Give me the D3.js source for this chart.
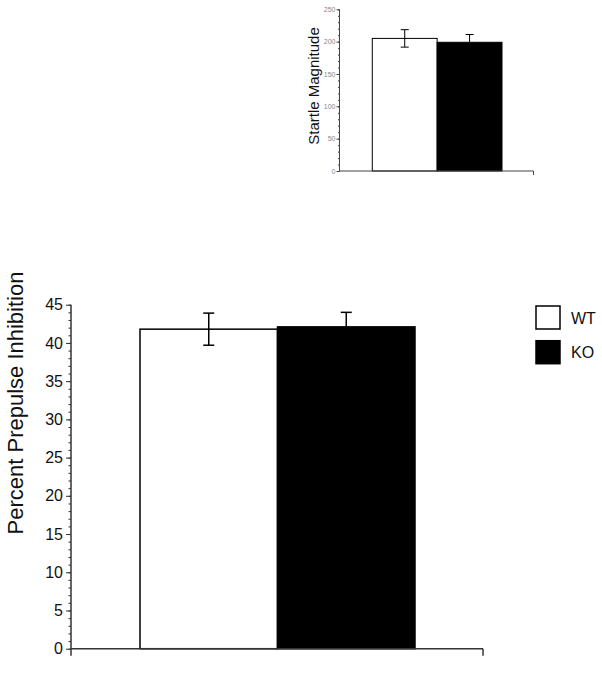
<!DOCTYPE html>
<html>
<head>
<meta charset="utf-8">
<script src="https://cdn.jsdelivr.net/npm/d3@7"></script>
<style>
	body { margin: 0; background: #fff; }
	svg { display: block; font-family: "Liberation Sans", Arial, sans-serif; }
</style>
</head>
<body>
<svg id="plot" width="602" height="679"></svg>
<script>

const GROUPS = ['WT', 'KO'];
const GROUP_FILL = ['#ffffff', '#000000'];

// main panel: percent prepulse inhibition
const PPI_MEAN = [41.8, 42.1];
const PPI_SEM = [2.1, 1.9];
const PPI_TICKS = [0, 5, 10, 15, 20, 25, 30, 35, 40, 45];

// inset: startle magnitude
const STARTLE_MEAN = [205, 199];
const STARTLE_SEM = [13.5, 12];
const STARTLE_TICKS = [0, 50, 100, 150, 200, 250];

const svg = d3.select('#plot');

function barPanel(opt) {
	const g = svg.append('g');

	const x = d3.scaleBand()
		.domain(GROUPS)
		.range([opt.barLeft, opt.barRight])
		.paddingInner(0);

	const y = d3.scaleLinear()
		.domain([0, opt.max])
		.range([opt.bottom, opt.top]);

	// minor ticks
	g.append('g')
		.attr('transform', `translate(${opt.axisX},0)`)
		.call(d3.axisLeft(y).tickValues(d3.range(0, opt.max + 0.01, opt.minorStep)).tickSize(opt.minorLen).tickFormat(''))
		.call(a => a.select('.domain').remove())
		.selectAll('line').attr('stroke', opt.axisColor);

	// major ticks + labels
	const yAx = g.append('g')
		.attr('transform', `translate(${opt.axisX},0)`)
		.call(d3.axisLeft(y).tickValues(opt.ticks).tickSize(opt.majorLen).tickPadding(opt.tickPad))
		.call(a => a.select('.domain').remove());
	yAx.selectAll('line').attr('stroke', opt.axisColor);
	yAx.selectAll('text')
		.attr('font-size', opt.tickFont)
		.attr('fill', opt.tickColor)
		.attr('font-family', '"Liberation Sans", Arial, sans-serif');

	// bars
	g.selectAll('rect.bar')
		.data(GROUPS)
		.enter().append('rect')
		.attr('class', 'bar')
		.attr('x', d => x(d))
		.attr('width', x.bandwidth())
		.attr('y', (d, i) => y(opt.mean[i]))
		.attr('height', (d, i) => y(0) - y(opt.mean[i]))
		.attr('fill', (d, i) => GROUP_FILL[i])
		.attr('stroke', '#000')
		.attr('stroke-width', opt.barStroke);

	// error bars (white bar shows both arms, black one only the upper)
	const eb = g.selectAll('g.err')
		.data(GROUPS)
		.enter().append('g')
		.attr('class', 'err')
		.attr('stroke', '#000')
		.attr('stroke-width', opt.errStroke);
	eb.append('line')
		.attr('x1', d => x(d) + x.bandwidth() / 2)
		.attr('x2', d => x(d) + x.bandwidth() / 2)
		.attr('y1', (d, i) => y(opt.mean[i] + opt.sem[i]))
		.attr('y2', (d, i) => i === 0 ? y(opt.mean[i] - opt.sem[i]) : y(opt.mean[i]));
	eb.append('line')
		.attr('x1', d => x(d) + x.bandwidth() / 2 - opt.cap)
		.attr('x2', d => x(d) + x.bandwidth() / 2 + opt.cap)
		.attr('y1', (d, i) => y(opt.mean[i] + opt.sem[i]))
		.attr('y2', (d, i) => y(opt.mean[i] + opt.sem[i]));
	eb.filter((d, i) => i === 0).append('line')
		.attr('x1', d => x(d) + x.bandwidth() / 2 - opt.cap)
		.attr('x2', d => x(d) + x.bandwidth() / 2 + opt.cap)
		.attr('y1', (d, i) => y(opt.mean[i] - opt.sem[i]))
		.attr('y2', (d, i) => y(opt.mean[i] - opt.sem[i]));

	// axis lines
	g.append('line')
		.attr('x1', opt.axisX).attr('x2', opt.axisX)
		.attr('y1', y(opt.max)).attr('y2', y(0) + opt.yOver)
		.attr('stroke', opt.axisColor).attr('stroke-width', opt.axisStroke);
	g.append('line')
		.attr('x1', opt.axisX).attr('x2', opt.xEnd)
		.attr('y1', y(0)).attr('y2', y(0))
		.attr('stroke', opt.axisColor).attr('stroke-width', opt.axisStroke);
	g.append('line')
		.attr('x1', opt.xEnd).attr('x2', opt.xEnd)
		.attr('y1', y(0)).attr('y2', y(0) + opt.endTick)
		.attr('stroke', opt.axisColor).attr('stroke-width', opt.axisStroke);

	g.append('text')
		.attr('transform', `translate(${opt.labelX},${opt.labelY}) rotate(-90)`)
		.attr('text-anchor', 'middle')
		.attr('font-size', opt.labelFont)
		.attr('fill', '#111')
		.text(opt.label);

	return g;
}

barPanel({
	mean: PPI_MEAN, sem: PPI_SEM, ticks: PPI_TICKS, max: 45,
	top: 304.7, bottom: 648.7, axisX: 71, barLeft: 140, barRight: 415, xEnd: 483,
	minorStep: 1, minorLen: 2.5, majorLen: 5, tickPad: 3, tickFont: 16, tickColor: '#111',
	axisColor: '#333', axisStroke: 1.5, barStroke: 1.5, errStroke: 1.5, cap: 5.5,
	yOver: 7, endTick: 7,
	label: 'Percent Prepulse Inhibition', labelX: 23, labelY: 403, labelFont: 22
});

barPanel({
	mean: STARTLE_MEAN, sem: STARTLE_SEM, ticks: STARTLE_TICKS, max: 250,
	top: 9.3, bottom: 171, axisX: 339.5, barLeft: 372.3, barRight: 502, xEnd: 533.5,
	minorStep: 10, minorLen: 1.5, majorLen: 3, tickPad: 1, tickFont: 7, tickColor: '#888',
	axisColor: '#444', axisStroke: 1, barStroke: 1, errStroke: 1, cap: 4,
	yOver: 0, endTick: 4,
	label: 'Startle Magnitude', labelX: 319, labelY: 86, labelFont: 15
});

// legend
const legend = svg.append('g').attr('transform', 'translate(536,306)');
const item = legend.selectAll('g')
	.data(GROUPS)
	.enter().append('g')
	.attr('transform', (d, i) => `translate(0,${i * 34.7})`);
item.append('rect')
	.attr('width', 24).attr('height', 23)
	.attr('fill', (d, i) => GROUP_FILL[i])
	.attr('stroke', '#000').attr('stroke-width', 1.5);
item.append('text')
	.attr('x', 35).attr('y', 17.5)
	.attr('font-size', 16)
	.attr('fill', '#111')
	.text(d => d);

</script>
</body>
</html>
